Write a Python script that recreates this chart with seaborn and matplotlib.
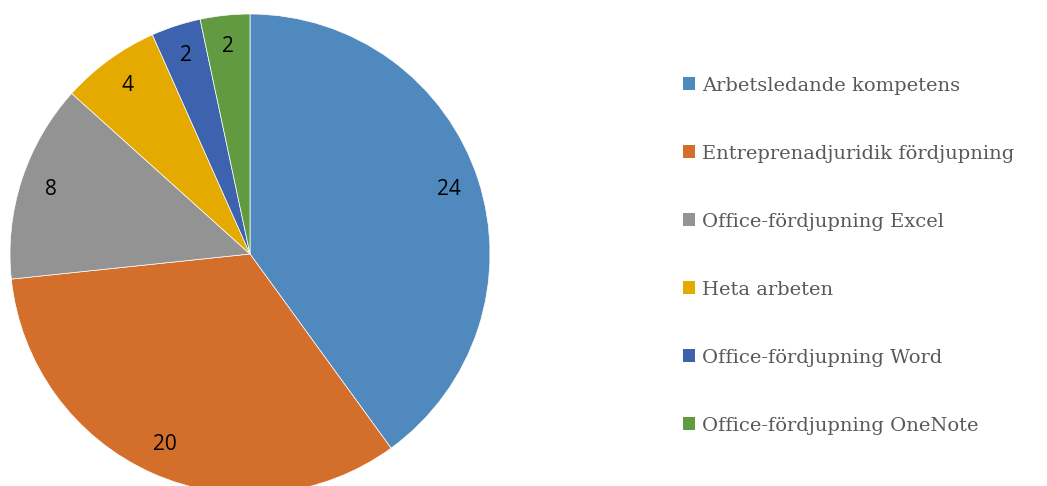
import matplotlib
matplotlib.use('Agg')
import matplotlib.pyplot as plt
import seaborn as sns

categories = ['Arbetsledande kompetens', 'Entreprenadjuridik fördjupning',
              'Office-fördjupning Excel', 'Heta arbeten',
              'Office-fördjupning Word', 'Office-fördjupning OneNote']
values = [24, 20, 8, 4, 2, 2]
colors = ['#4f89bd', '#d36e2b', '#939393', '#e5aa00', '#3d62ae', '#629a41']

sns.set_theme(style='white')
plt.rcParams['font.family'] = ['Open Sans', 'DejaVu Sans']

fig = plt.figure(figsize=(10.47, 4.86), dpi=100)
# pie centred at (250, 254) px with radius 240 px
ax = fig.add_axes([10 / 1047, -8 / 486, 480 / 1047, 480 / 486])

wedges, texts, autotexts = ax.pie(
    values, colors=colors, startangle=90, counterclock=False, radius=1,
    autopct=lambda p: '{:.0f}'.format(p * sum(values) / 100), pctdistance=0.87,
    wedgeprops=dict(linewidth=0.5, edgecolor='white'),
    textprops=dict(fontsize=15, color='black'))
ax.set_xlim(-1, 1)
ax.set_ylim(-1, 1)
ax.set_aspect('equal')
ax.axis('off')

leg = fig.legend(wedges, categories, loc='upper left', bbox_to_anchor=(673 / 1047, 1 - 67 / 486),
                 frameon=False, handlelength=0.65, handleheight=0.65, handletextpad=0.35,
                 labelspacing=2.57, borderpad=0,
                 prop=dict(family='DejaVu Serif', size=14))
for t in leg.get_texts():
    t.set_color('#595959')
for h in leg.legend_handles:
    h.set_edgecolor('none')

fig.savefig('out.png', dpi=100)
